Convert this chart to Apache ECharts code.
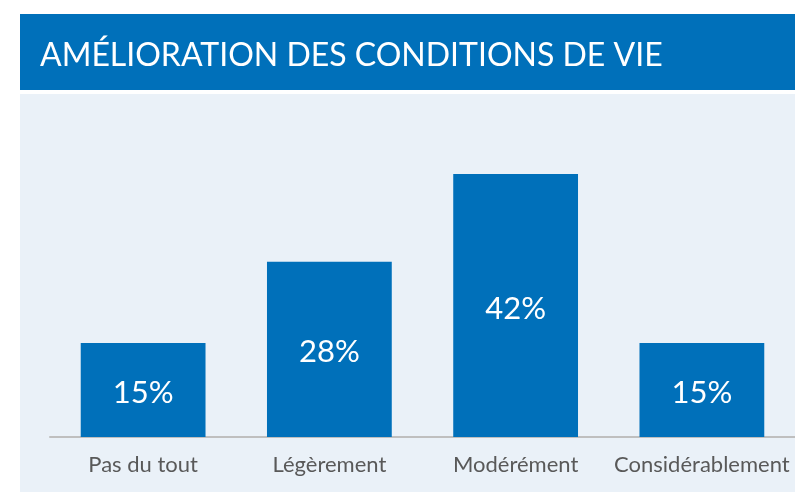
<!DOCTYPE html>
<html lang="fr">
<head>
    <meta charset="UTF-8">
    <title>Amélioration des conditions de vie</title>
    <script type="text/javascript" src="https://cdn.jsdelivr.net/npm/echarts@6/dist/echarts.min.js"></script>
    <style>
        body{
            padding: 0px;
            margin: 0px;
            background-color: #ffffff;
        }
        #bar{
            width: 795px;
            height: 493px;
        }
    </style>
</head>
<body>
    <div id="bar"></div>
    <script>
        var titleText = 'AMÉLIORATION DES CONDITIONS DE VIE';
        var categories = ['Pas du tout', 'Légèrement', 'Modérément', 'Considérablement'];
        var values = [15, 28, 42, 15];

        var blue = '#0070BA';
        var chart = echarts.init(document.getElementById('bar'));

        var option = {
            backgroundColor: '#ffffff',
            animation: false,
            graphic: [
                // bandeau du titre
                {type: 'rect', left: 20, top: 14, z: -10,
                    shape: {width: 775, height: 76}, style: {fill: blue}},
                // fond du graphique
                {type: 'rect', left: 20, top: 94, z: -10,
                    shape: {width: 775, height: 398}, style: {fill: '#EAF1F8'}}
            ],
            title: {
                text: titleText,
                left: 35,
                top: 35,
                textStyle: {
                    color: '#ffffff',
                    fontFamily: 'Lato',
                    fontWeight: 'normal',
                    fontSize: 32
                }
            },
            grid: {left: 50, right: 0, top: 124, bottom: 56},
            xAxis: {
                type: 'category',
                data: categories,
                axisTick: {show: false},
                axisLine: {lineStyle: {color: '#BFBFBF', width: 2}},
                axisLabel: {
                    interval: 0,
                    color: '#595959',
                    fontFamily: 'Lato',
                    fontSize: 22,
                    margin: 17
                }
            },
            yAxis: {
                type: 'value',
                min: 0,
                max: 50,
                show: false
            },
            series: [{
                type: 'bar',
                data: values,
                barCategoryGap: '33%',
                itemStyle: {color: blue},
                label: {
                    show: true,
                    position: 'inside',
                    formatter: '{c}%',
                    color: '#ffffff',
                    fontFamily: 'Lato',
                    fontSize: 31,
                    offset: [0, 3]
                }
            }]
        };
        chart.setOption(option);
    </script>
</body>
</html>
